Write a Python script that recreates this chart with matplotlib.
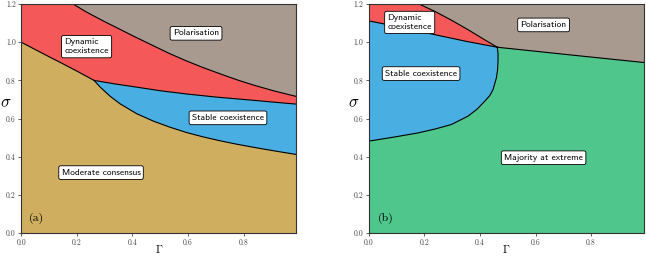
import matplotlib.pyplot as plt
import numpy as np

plt.rcParams['mathtext.fontset'] = 'cm'
plt.rcParams['axes.formatter.use_mathtext'] = True

gold = '#CFAE5F'
red = '#F55858'
blue = '#49AEE2'
grey = '#A89A8F'
green = '#4FC68B'

# ---- panel (a) boundaries, (Gamma, sigma)
a_lower_G = [0.0, 0.05, 0.10, 0.15, 0.20, 0.262]
a_lower_S = [1.0, 0.962, 0.924, 0.887, 0.849, 0.800]
a_stable_low_G = [0.262, 0.284, 0.319, 0.355, 0.415, 0.475, 0.535, 0.595, 0.655, 0.715, 0.775, 0.835, 0.91, 0.99]
a_stable_low_S = [0.800, 0.765, 0.718, 0.678, 0.626, 0.587, 0.555, 0.527, 0.504, 0.484, 0.466, 0.450, 0.431, 0.412]
a_stable_up_G = [0.262, 0.34, 0.415, 0.50, 0.595, 0.70, 0.835, 0.91, 0.99]
a_stable_up_S = [0.800, 0.781, 0.765, 0.746, 0.729, 0.713, 0.696, 0.686, 0.676]
a_pol_G = [0.181, 0.235, 0.30, 0.355, 0.40, 0.475, 0.535, 0.595, 0.655, 0.715, 0.775, 0.835, 0.91, 0.99]
a_pol_S = [1.205, 1.158, 1.108, 1.068, 1.035, 0.982, 0.940, 0.902, 0.867, 0.835, 0.804, 0.776, 0.745, 0.716]

# ---- panel (b) boundaries
b_dyn_G = [0.0, 0.10, 0.237, 0.35, 0.4625]
b_dyn_S = [1.112, 1.083, 1.040, 1.005, 0.974]
b_pol_left_G = [0.183, 0.24, 0.297, 0.357, 0.417, 0.4625]
b_pol_left_S = [1.199, 1.160, 1.116, 1.066, 1.013, 0.974]
b_pol_right_G = [0.4625, 0.6, 0.717, 0.85, 0.99]
b_pol_right_S = [0.974, 0.953, 0.935, 0.915, 0.894]
b_stable_G = [0.0, 0.09, 0.177, 0.24, 0.297, 0.357, 0.39, 0.417, 0.435, 0.447, 0.459, 0.463, 0.465, 0.465, 0.4625]
b_stable_S = [0.482, 0.503, 0.525, 0.546, 0.569, 0.613, 0.650, 0.691, 0.720, 0.752, 0.813, 0.850, 0.900, 0.940, 0.974]

XMAX = 0.99
YMAX = 1.2

fig = plt.figure(figsize=(6.46, 2.57), dpi=100)
ax1 = fig.add_axes([0.033, 0.093, 0.4257, 0.891])
ax2 = fig.add_axes([0.571, 0.093, 0.4257, 0.891])

box = dict(boxstyle='round,pad=0.3,rounding_size=0.2', fc='white', ec='black', lw=0.6)
lab_font = dict(family='cmss10', fontsize=6.8)
lw = 0.8

# panel (a)
ax1.add_patch(plt.Rectangle((0, 0), XMAX, YMAX, color=gold, zorder=0))
red_x = [0.0] + a_lower_G + a_stable_up_G[1:] + [XMAX, 0.0]
red_y = [YMAX] + a_lower_S + a_stable_up_S[1:] + [YMAX, YMAX]
ax1.fill(red_x, red_y, color=red, lw=0, zorder=1)
ax1.fill(a_stable_up_G + a_stable_low_G[::-1], a_stable_up_S + a_stable_low_S[::-1],
         color=blue, lw=0, zorder=1)
ax1.fill(a_pol_G + [XMAX], a_pol_S + [YMAX], color=grey, lw=0, zorder=1)
for gx, sy in [(a_lower_G, a_lower_S), (a_stable_low_G, a_stable_low_S),
               (a_stable_up_G, a_stable_up_S), (a_pol_G, a_pol_S)]:
    ax1.plot(gx, sy, color='black', lw=lw, zorder=2, solid_joinstyle='round')

ax1.text(0.629, 1.047, 'Polarisation', ha='center', va='center', bbox=box, **lab_font)
ax1.text(0.235, 0.977, 'Dynamic\ncoexistence', ha='center', va='center', ma='left',
         bbox=box, linespacing=1.1, **lab_font)
ax1.text(0.744, 0.604, 'Stable coexistence', ha='center', va='center', bbox=box, **lab_font)
ax1.text(0.287, 0.317, 'Moderate consensus', ha='center', va='center', bbox=box, **lab_font)
ax1.text(0.053, 0.078, '(a)', ha='center', va='center', family='cmr10', fontsize=8.5)

# panel (b)
ax2.add_patch(plt.Rectangle((0, 0), XMAX, YMAX, color=green, zorder=0))
ax2.fill([0.0] + b_dyn_G + b_pol_left_G[::-1] + [0.0], [YMAX] + b_dyn_S + b_pol_left_S[::-1] + [YMAX],
         color=red, lw=0, zorder=1)
ax2.fill(b_pol_left_G + b_pol_right_G[1:] + [XMAX], b_pol_left_S + b_pol_right_S[1:] + [YMAX],
         color=grey, lw=0, zorder=1)
ax2.fill(b_dyn_G + b_stable_G[::-1], b_dyn_S + b_stable_S[::-1], color=blue, lw=0, zorder=1)
for gx, sy in [(b_dyn_G, b_dyn_S), (b_pol_left_G, b_pol_left_S),
               (b_pol_right_G, b_pol_right_S), (b_stable_G, b_stable_S)]:
    ax2.plot(gx, sy, color='black', lw=lw, zorder=2, solid_joinstyle='round')

ax2.text(0.147, 1.104, 'Dynamic\ncoexistence', ha='center', va='center', ma='left',
         bbox=box, linespacing=1.1, **lab_font)
ax2.text(0.629, 1.091, 'Polarisation', ha='center', va='center', bbox=box, **lab_font)
ax2.text(0.188, 0.836, 'Stable coexistence', ha='center', va='center', bbox=box, **lab_font)
ax2.text(0.629, 0.395, 'Majority at extreme', ha='center', va='center', bbox=box, **lab_font)
ax2.text(0.06, 0.078, '(b)', ha='center', va='center', family='cmr10', fontsize=8.5)

for ax in (ax1, ax2):
    ax.set_xlim(0, XMAX)
    ax.set_ylim(0, YMAX)
    ax.set_xticks([0.0, 0.2, 0.4, 0.6, 0.8])
    ax.set_yticks([0.0, 0.2, 0.4, 0.6, 0.8, 1.0, 1.2])
    ax.set_xticklabels(['0.0', '0.2', '0.4', '0.6', '0.8'], family='cmr10', fontsize=5.5)
    ax.set_yticklabels(['0.0', '0.2', '0.4', '0.6', '0.8', '1.0', '1.2'], family='cmr10', fontsize=5.5)
    ax.tick_params(length=2.5, width=0.6, pad=1.5, colors='#444444')
    for s in ax.spines.values():
        s.set_linewidth(0.8)
        s.set_color('#333333')
    ax.set_xlabel(r'$\Gamma$', fontsize=8)
    ax.set_ylabel(r'$\sigma$', fontsize=12, rotation=0)
    ax.xaxis.set_label_coords(0.5, -0.045)
    ax.yaxis.set_label_coords(-0.055, 0.53)

fig.savefig('out.png', dpi=100)
